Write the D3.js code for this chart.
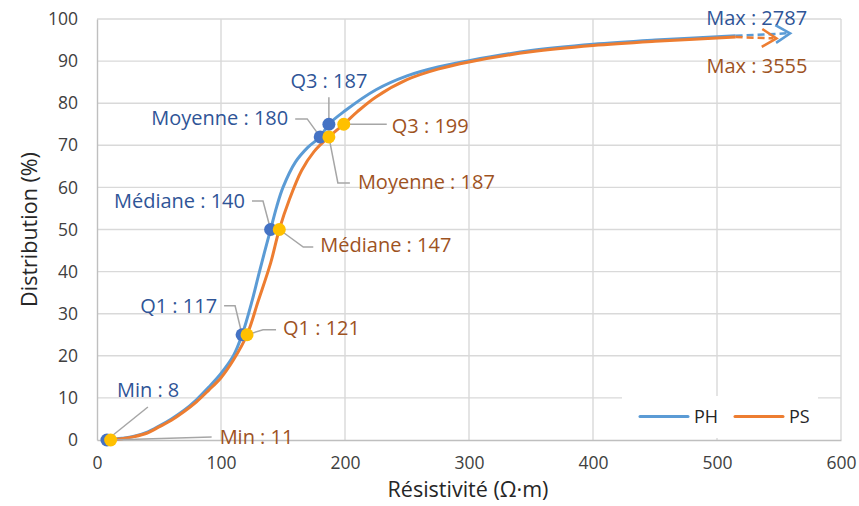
<!DOCTYPE html>
<html><head><meta charset="utf-8">
<script src="https://cdn.jsdelivr.net/npm/d3@7"></script>
<style>
html,body{margin:0;padding:0;background:#fff;}
text{font-family:"Open Sans",sans-serif;}
</style></head>
<body><svg id="c" width="859" height="506"></svg>
<script>
// ---- data ----
const xTicks = [0,100,200,300,400,500,600];
const yTicks = [0,10,20,30,40,50,60,70,80,90,100];
const seriesNames = ["PH","PS"];
const phX = [8,20,30,40,50,60,70,80,90,100,110,117,125,130,135,140,145,150,160,170,180,187,200,225,250,275,300,350,400,450,515];
const phY = [0,0.4,0.9,1.8,3.3,5,7,9.5,12.5,15.8,20,25,33,38.8,44.5,50,55.5,60,66,69.5,72,75,78.2,83.2,86.5,88.6,90.1,92.5,94,95,96];
const psX = [11,20,30,40,50,60,70,80,90,100,110,121,130,140,147,155,165,175,187,199,210,225,250,275,300,350,400,450,515];
const psY = [0,0.3,0.8,1.6,3.1,4.7,6.7,9,11.8,14.8,19,25,33,42,50,57,64,68.5,72,75,78,81.5,85.6,88.1,89.8,92.2,93.7,94.7,95.7];
const phMaxArrowX = 559, phMaxArrowY = 96.6;
const psMaxArrowX = 548, psMaxArrowY = 95.4;
const statNames = ["Min","Q1","Médiane","Moyenne","Q3"];
const phStatX = [8,117,140,180,187];
const phStatY = [0,25,50,72,75];
const psStatX = [11,121,147,187,199];
const psStatY = [0,25,50,72,75];
const phMax = 2787, psMax = 3555;

// ---- layout / styles ----
const svg = d3.select("#c");
const x = d3.scaleLinear().domain([0,600]).range([97,841]);
const y = d3.scaleLinear().domain([0,100]).range([440,19]);
const colLine = {PH:"#5B9BD5", PS:"#ED7D31"};
const colDot = {PH:"#4472C4", PS:"#FFC000"};
const colText = {PH:"#2F5597", PS:"#9E531F"};
const labelSize = 20;

// grid
const g = svg.append("g");
g.selectAll(".gy").data(yTicks.filter(d=>d>0)).join("line")
  .attr("x1",x(0)).attr("x2",x(600)).attr("y1",d=>y(d)).attr("y2",d=>y(d))
  .attr("stroke","#D9D9D9").attr("stroke-width",1.4);
g.selectAll(".gx").data(xTicks.filter(d=>d>0)).join("line")
  .attr("y1",y(0)).attr("y2",y(100)).attr("x1",d=>x(d)).attr("x2",d=>x(d))
  .attr("stroke","#D9D9D9").attr("stroke-width",1.4);

// axes
const xAxis = d3.axisBottom(x).tickValues(xTicks).tickSize(0).tickPadding(17);
const yAxis = d3.axisLeft(y).tickValues(yTicks).tickSize(0).tickPadding(19);
const gx = svg.append("g").attr("transform",`translate(0,${y(0)})`).call(xAxis);
const gy = svg.append("g").attr("transform",`translate(${x(0)},0)`).call(yAxis);
[gx,gy].forEach(a=>{
  a.select(".domain").attr("stroke","#BFBFBF").attr("stroke-width",1.4);
  a.selectAll("text").attr("font-size",17.5).attr("fill","#404040").attr("font-family","Open Sans");
});
gx.selectAll("text").attr("dy","0.71em");

svg.append("text").attr("x",468).attr("y",497).attr("text-anchor","middle")
  .attr("font-size",21.5).attr("fill","#262626").text("Résistivité (Ω·m)");
svg.append("text").attr("transform",`translate(37,${(y(0)+y(100))/2}) rotate(-90)`)
  .attr("text-anchor","middle").attr("font-size",21.5).attr("fill","#262626").text("Distribution (%)");

// legend
svg.append("rect").attr("x",622).attr("y",396).attr("width",196).attr("height",42).attr("fill","#fff");
seriesNames.forEach((s,i)=>{
  const lx = 640 + i*95;
  svg.append("line").attr("x1",lx).attr("x2",lx+48).attr("y1",416.5).attr("y2",416.5)
    .attr("stroke",colLine[s]).attr("stroke-width",3).attr("stroke-linecap","round");
  svg.append("text").attr("x",lx+54).attr("y",423).attr("font-size",18).attr("fill","#262626").text(s);
});

// lines
const line = d3.line().x(d=>x(d[0])).y(d=>y(d[1])).curve(d3.curveCatmullRom.alpha(0.5));
const series = [
  {name:"PH", xs:phX, ys:phY, ax:phMaxArrowX, ay:phMaxArrowY, sx:phStatX, sy:phStatY, max:phMax},
  {name:"PS", xs:psX, ys:psY, ax:psMaxArrowX, ay:psMaxArrowY, sx:psStatX, sy:psStatY, max:psMax}
];
series.forEach(s=>{
  const pts = s.xs.map((v,i)=>[v,s.ys[i]]);
  svg.append("path").attr("d",line(pts)).attr("fill","none")
    .attr("stroke",colLine[s.name]).attr("stroke-width",3).attr("stroke-linejoin","round");
  const last = pts[pts.length-1];
  const x0 = x(last[0]), y0 = y(last[1]), x1 = x(s.ax), y1 = y(s.ay);
  svg.append("line").attr("x1",x0).attr("y1",y0).attr("x2",x1-3).attr("y2",y1)
    .attr("stroke",colLine[s.name]).attr("stroke-width",2.5).attr("stroke-dasharray","7,4");
  const ang = Math.atan2(y1-y0, x1-x0), L = 17, a = 0.55;
  const p1 = [x1 - L*Math.cos(ang-a), y1 - L*Math.sin(ang-a)];
  const p2 = [x1 - L*Math.cos(ang+a), y1 - L*Math.sin(ang+a)];
  svg.append("path").attr("d",`M${p1[0]},${p1[1]}L${x1},${y1}L${p2[0]},${p2[1]}`)
    .attr("fill","none").attr("stroke",colLine[s.name]).attr("stroke-width",2.5).attr("stroke-linejoin","miter");
});

// annotation layout (pixel offsets from the dot)
const layout = {
  PH: [
    {lead:[[41,-33]], t:[10,-43], anchor:"start"},
    {lead:[[-7,-29],[-18,-29]], t:[-25,-22], anchor:"end"},
    {lead:[[-7.6,-28.5],[-18.6,-28.5]], t:[-25.6,-21.5], anchor:"end"},
    {lead:[[-13,-18],[-25,-18]], t:[-32,-12], anchor:"end"},
    {lead:[[0,-27]], t:[0,-36], anchor:"middle"}
  ],
  PS: [
    {lead:[[101,-3]], t:[109,4], anchor:"start"},
    {lead:[[16,-5],[29,-5]], t:[36,0.5], anchor:"start"},
    {lead:[[24,17.5],[34,17.5]], t:[41,22.5], anchor:"start"},
    {lead:[[9,46],[21,46]], t:[29,52], anchor:"start"},
    {lead:[[43,0]], t:[48,8.5], anchor:"start"}
  ]
};
const fmt = d3.format("d");
series.forEach(s=>{
  s.sx.forEach((v,i)=>{
    const cx = x(v), cy = y(s.sy[i]);
    const L = layout[s.name][i];
    const path = [[cx,cy]].concat(L.lead.map(o=>[cx+o[0],cy+o[1]]));
    svg.append("path").attr("d",d3.line()(path)).attr("fill","none")
      .attr("stroke","#A6A6A6").attr("stroke-width",1.5);
    svg.append("text").attr("x",cx+L.t[0]).attr("y",cy+L.t[1]).attr("text-anchor",L.anchor)
      .attr("font-size",labelSize).attr("fill",colText[s.name]).text(statNames[i]+" : "+fmt(v));
  });
});
series.forEach(s=>{
  s.sx.forEach((v,i)=>{
    svg.append("circle").attr("cx",x(v)).attr("cy",y(s.sy[i])).attr("r",6.5).attr("fill",colDot[s.name]);
  });
});
const maxOff = {PH:[-84,-8], PS:[-70,35]};
series.forEach(s=>{
  svg.append("text").attr("x",x(s.ax)+maxOff[s.name][0]).attr("y",y(s.ay)+maxOff[s.name][1])
    .attr("font-size",labelSize).attr("fill",colText[s.name]).text("Max : "+fmt(s.max));
});
</script></body></html>
